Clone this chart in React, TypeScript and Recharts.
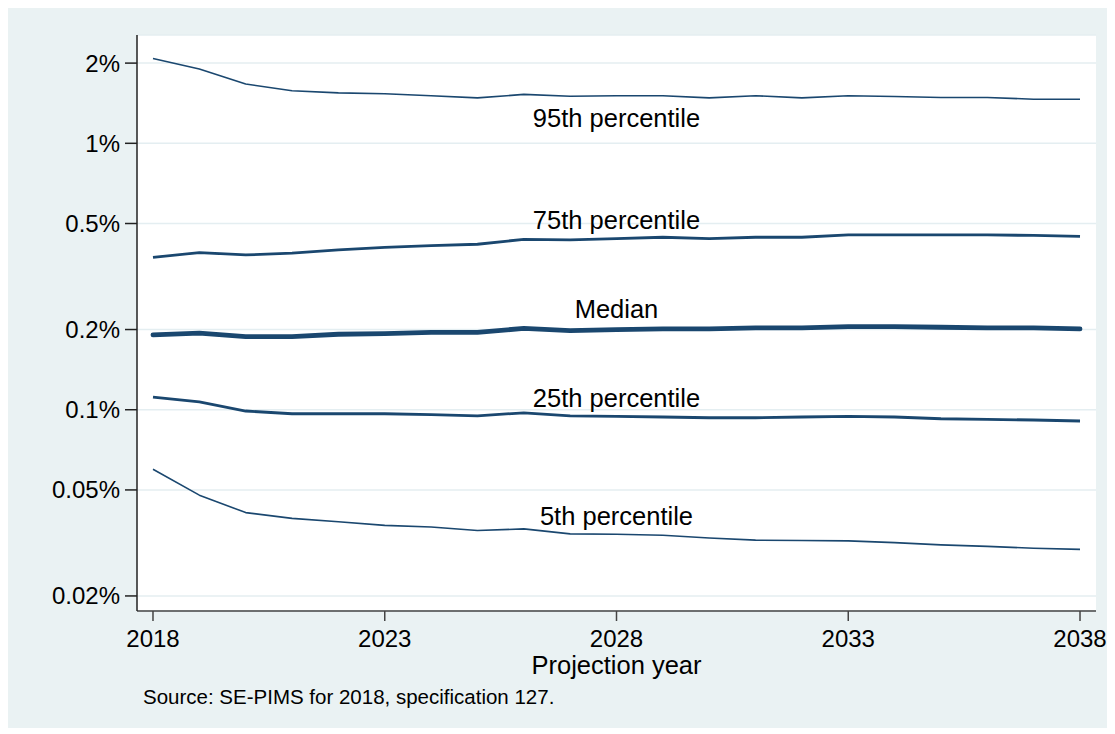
import React from 'react';
import { CartesianGrid, Label, Line, LineChart, ReferenceDot, XAxis, YAxis } from 'recharts';

// Projected percentile paths, in percent
const years = [2018, 2019, 2020, 2021, 2022, 2023, 2024, 2025, 2026, 2027, 2028, 2029, 2030, 2031, 2032, 2033, 2034, 2035, 2036, 2037, 2038];
const p95 = [2.08, 1.9, 1.67, 1.574, 1.546, 1.534, 1.508, 1.481, 1.526, 1.502, 1.508, 1.508, 1.481, 1.508, 1.481, 1.508, 1.498, 1.486, 1.486, 1.464, 1.464];
const p75 = [0.373, 0.389, 0.381, 0.387, 0.398, 0.407, 0.413, 0.418, 0.436, 0.434, 0.439, 0.444, 0.439, 0.444, 0.444, 0.453, 0.453, 0.453, 0.453, 0.451, 0.447];
const p50 = [0.191, 0.194, 0.188, 0.188, 0.192, 0.193, 0.195, 0.195, 0.202, 0.198, 0.2, 0.201, 0.201, 0.203, 0.203, 0.205, 0.205, 0.204, 0.203, 0.203, 0.201];
const p25 = [0.1116, 0.107, 0.0989, 0.0966, 0.0966, 0.0966, 0.0958, 0.0949, 0.0974, 0.0949, 0.0944, 0.0939, 0.0933, 0.0933, 0.0939, 0.0944, 0.0939, 0.0925, 0.092, 0.0915, 0.0907];
const p5 = [0.0598, 0.0478, 0.0411, 0.0391, 0.038, 0.0368, 0.0363, 0.0352, 0.0357, 0.0342, 0.0341, 0.0338, 0.033, 0.0324, 0.0323, 0.0322, 0.0317, 0.0311, 0.0307, 0.0302, 0.0299];

const xTicks = [2018, 2023, 2028, 2033, 2038];
const yTicks = [0.02, 0.05, 0.1, 0.2, 0.5, 1, 2];

// text placed next to each path
const lineLabels = [
  { text: '95th percentile', year: 2028, value: 1.242 },
  { text: '75th percentile', year: 2028, value: 0.517 },
  { text: 'Median', year: 2028, value: 0.238 },
  { text: '25th percentile', year: 2028, value: 0.111 },
  { text: '5th percentile', year: 2028, value: 0.0399 },
];

const data = years.map((year, i) => ({
  year,
  p95: p95[i],
  p75: p75[i],
  p50: p50[i],
  p25: p25[i],
  p5: p5[i],
}));

const NAVY = '#1a476f';
const FONT = '"Liberation Sans", Arial, Helvetica, sans-serif';

export default function App() {
  return (
    <div style={{ position: 'relative', width: 1100, height: 720, background: '#eaf2f3', fontFamily: FONT }}>
      <LineChart width={1100} height={720} data={data} margin={{ top: 27, right: 12, bottom: 47, left: 0 }}>
        <CartesianGrid vertical={false} stroke="#e4eef1" strokeWidth={1.5} fill="#ffffff" />
        <XAxis
          dataKey="year"
          type="number"
          domain={[2017.655, 2038.345]}
          ticks={xTicks}
          allowDataOverflow
          height={70}
          tickSize={10}
          tickMargin={9}
          tick={{ fontSize: 24, fill: '#000' }}
          stroke="#444"
          strokeWidth={1.5}
        >
          <Label value="Projection year" position="insideBottom" offset={7} style={{ fontSize: 25.5, fill: '#000' }} />
        </XAxis>
        <YAxis
          scale="log"
          domain={[0.01756, 2.55]}
          ticks={yTicks}
          allowDataOverflow
          width={129}
          tickSize={12}
          tickMargin={5}
          tickFormatter={(v: number) => `${v}%`}
          tick={{ fontSize: 24, fill: '#000' }}
          stroke="#222"
          strokeWidth={1.5}
        />
        <Line dataKey="p95" type="linear" stroke={NAVY} strokeWidth={1.6} dot={false} isAnimationActive={false} strokeLinejoin="round" />
        <Line dataKey="p75" type="linear" stroke={NAVY} strokeWidth={2.8} dot={false} isAnimationActive={false} strokeLinejoin="round" />
        <Line dataKey="p50" type="linear" stroke={NAVY} strokeWidth={4.8} dot={false} isAnimationActive={false} strokeLinejoin="round" strokeLinecap="round" />
        <Line dataKey="p25" type="linear" stroke={NAVY} strokeWidth={2.8} dot={false} isAnimationActive={false} strokeLinejoin="round" />
        <Line dataKey="p5" type="linear" stroke={NAVY} strokeWidth={1.6} dot={false} isAnimationActive={false} strokeLinejoin="round" />
        {lineLabels.map((l) => (
          <ReferenceDot
            key={l.text}
            x={l.year}
            y={l.value}
            r={0}
            stroke="none"
            fill="none"
            label={{ value: l.text, position: 'center', fontSize: 25.5, fill: '#000' }}
          />
        ))}
      </LineChart>
      <div style={{ position: 'absolute', left: 135, top: 677, fontSize: 20.5, color: '#000', whiteSpace: 'nowrap' }}>
        Source: SE-PIMS for 2018, specification 127.
      </div>
    </div>
  );
}
